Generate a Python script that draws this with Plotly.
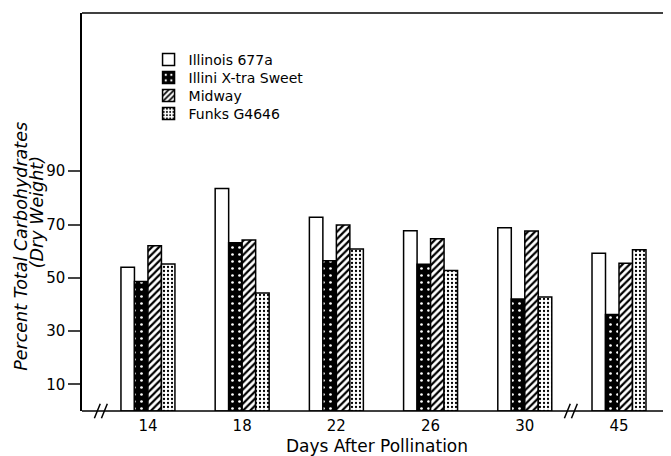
import plotly.graph_objects as go

days = ["14", "18", "22", "26", "30", "45"]
illinois_677a = [54, 83.5, 72.7, 67.7, 68.8, 59.2]
illini_xtra_sweet = [48.6, 63.2, 56.4, 55.1, 42, 36.2]
midway = [62, 64.2, 69.8, 64.7, 67.6, 55.5]
funks_g4646 = [55.2, 44.3, 60.8, 52.7, 42.8, 60.5]
y_ticks = [10, 30, 50, 70, 90]

xpos = list(range(len(days)))
FONT = "DejaVu Sans"

fig = go.Figure()
line = dict(color="black", width=1.5)
fig.add_bar(x=xpos, y=illinois_677a, name="Illinois 677a", legend="legend",
            marker=dict(color="white", line=line))
fig.add_bar(x=xpos, y=illini_xtra_sweet, name="Illini X-tra Sweet", legend="legend2",
            marker=dict(color="black", line=line,
                        pattern=dict(shape=".", fgcolor="white", bgcolor="black",
                                     size=7, solidity=0.12)))
fig.add_bar(x=xpos, y=midway, name="Midway", legend="legend3",
            marker=dict(color="white", line=line,
                        pattern=dict(shape="/", fgcolor="black", bgcolor="white",
                                     size=5, solidity=0.45)))
fig.add_bar(x=xpos, y=funks_g4646, name="Funks G4646", legend="legend4",
            marker=dict(color="white", line=line,
                        pattern=dict(shape=".", fgcolor="black", bgcolor="white",
                                     size=4, solidity=0.25)))

# one legend per row so the rows can sit as close together as in the reference
row_centers_px = [52, 70, 88, 106]   # local pixels from top of figure
def leg(yc):
    return dict(x=0.113, y=(403 - yc) / 398, xanchor="left", yanchor="middle",
                font=dict(size=14, family=FONT), bgcolor="rgba(0,0,0,0)")

# page body has an 8px margin, so the figure is shrunk and shifted to compensate
fig.update_layout(
    template="none",
    width=663, height=448,
    margin=dict(l=74, r=0, t=5, b=45, autoexpand=False),
    plot_bgcolor="white", paper_bgcolor="white",
    barmode="group", bargap=0.427, bargroupgap=0,
    font=dict(family=FONT, color="black", size=14),
    legend=leg(row_centers_px[0]),
    legend2=leg(row_centers_px[1]),
    legend3=leg(row_centers_px[2]),
    legend4=leg(row_centers_px[3]),
    xaxis=dict(range=[-0.70, 5.552], tickmode="array", tickvals=xpos, ticktext=days,
               showline=False, ticks="", showgrid=False, zeroline=False,
               automargin=False, tickfont=dict(size=15), ticklabelstandoff=4),
    yaxis=dict(range=[0, 149.4], tickvals=y_ticks, ticks="outside", ticklen=12,
               tickwidth=1.5, showline=True, linecolor="black", linewidth=1.5,
               showgrid=False, zeroline=False, automargin=False,
               tickfont=dict(size=15)),
    yaxis2=dict(range=[0, 149.4], tickvals=y_ticks, ticks="inside", ticklen=8,
                tickwidth=1.5, showline=False, showticklabels=False, showgrid=False,
                zeroline=False, overlaying="y", side="right", automargin=False),
)
# invisible trace so the right-hand ticks are drawn
fig.add_scatter(x=[0], y=[0], yaxis="y2", mode="markers",
                marker=dict(opacity=0), showlegend=False, hoverinfo="skip")

# frame: top line and bottom axis line
fig.add_shape(type="line", xref="paper", yref="paper", x0=0, x1=1, y0=1, y1=1,
              line=dict(color="black", width=1.5))
fig.add_shape(type="line", xref="paper", yref="paper", x0=0, x1=1, y0=0, y1=0,
              line=dict(color="black", width=1.5))
# axis break marks
for xc in [0.032, 0.83]:
    for dx in [-0.006, 0.006]:
        fig.add_shape(type="line", xref="paper", yref="paper",
                      x0=xc + dx - 0.005, x1=xc + dx + 0.005, y0=-0.018, y1=0.018,
                      line=dict(color="black", width=1.5))

fig.add_annotation(text="Days After Pollination", xref="paper", yref="paper",
                   x=0.501, y=-0.088, yanchor="middle", showarrow=False,
                   font=dict(size=17, family=FONT))
fig.add_annotation(text="<i>Percent Total Carbohydrates</i>", xref="paper", yref="paper",
                   x=-0.105, xanchor="center", y=0.413, textangle=-90, showarrow=False,
                   font=dict(size=17.5, family=FONT))
fig.add_annotation(text="<i>(Dry Weight)</i>", xref="paper", yref="paper",
                   x=-0.076, xanchor="center", y=0.50, textangle=-90, showarrow=False,
                   font=dict(size=17.5, family=FONT))

fig.write_html("out.html")
